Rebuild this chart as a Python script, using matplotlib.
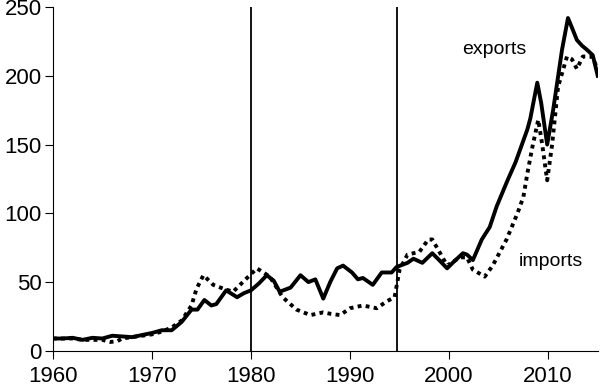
import matplotlib
matplotlib.use("Agg")
import matplotlib.pyplot as plt

plt.rcParams['font.family'] = ['Liberation Sans', 'DejaVu Sans']

# Exports (solid line)
exp_years = [1960, 1961, 1962, 1963, 1964, 1965, 1966, 1967, 1968, 1969,
             1970, 1971, 1972, 1973, 1974, 1974.6, 1975.3, 1976, 1976.5, 1977.5,
             1978.6, 1979.3, 1980, 1980.8, 1981.6, 1982.3, 1982.9, 1984, 1985, 1985.8,
             1986.5, 1987.3, 1988, 1988.7, 1989.3, 1990.2, 1990.8, 1991.3, 1992.3, 1993.2,
             1994.2, 1994.7, 1995.8, 1996.4, 1997.3, 1998.3, 1999, 1999.8, 2000.5, 2001.4,
             2001.8, 2002.4, 2003.3, 2004.1, 2004.8, 2005.9, 2006.7, 2007.4, 2007.9, 2008.2,
             2008.9, 2009.3, 2009.9, 2010.5, 2011.4, 2012.0, 2012.4, 2012.9, 2013.4, 2013.9,
             2014.5, 2015.0]
exp_vals = [9, 9, 9.5, 8, 9.5, 9, 11, 10.5, 10, 11.5,
            13, 15, 15, 21, 30, 30, 37, 33, 34, 44,
            39, 42, 44, 49, 55, 51, 43, 46, 55, 50,
            52, 38, 50, 60, 62, 57, 52, 53, 48, 57,
            57, 61, 64, 67, 64, 71, 66, 60, 65, 71,
            70, 66, 81, 90, 105, 124, 137, 151, 161, 169,
            195, 180, 150, 175, 219, 242, 235, 226, 222, 219,
            215, 200]

# Imports (dotted line)
imp_years = [1960, 1961, 1962, 1963, 1964, 1965, 1965.8, 1966.5, 1967, 1968,
             1969, 1970, 1971, 1972, 1973, 1974, 1974.5, 1975.2, 1976.2, 1977.3,
             1978.2, 1979.6, 1980.6, 1981.9, 1983.2, 1984.6, 1986, 1987.3, 1988, 1989,
             1990, 1991.3, 1992.7, 1993.7, 1994.5, 1995, 1995.8, 1997, 1997.9, 1998.3,
             1999.1, 1999.8, 2001.1, 2001.8, 2002.4, 2003.6, 2004.4, 2005.8, 2006.9, 2007.5,
             2007.9, 2008.4, 2009.0, 2009.4, 2009.9, 2010.4, 2011.0, 2011.9, 2012.4, 2012.9,
             2013.5, 2014.4, 2015.0]
imp_vals = [9, 9, 9, 8, 8, 8, 6.5, 7, 9, 10,
            11, 12, 14, 17, 22, 33, 45, 55, 48, 45,
            43, 53, 60, 54, 39, 30, 26, 28, 27, 26,
            31, 33, 31, 36, 39, 59, 70, 72, 81, 81,
            71, 62, 68, 68, 59, 54, 62, 81, 100, 112,
            129, 148, 168, 150, 124, 150, 192, 214, 212, 205,
            214, 214, 205]

breaks = [1980, 1994.7]

fig = plt.figure(figsize=(6, 3.89), dpi=100)
ax = fig.add_axes([0.088, 0.098, 0.909, 0.884])

ax.plot(exp_years, exp_vals, color='black', lw=2.8, solid_joinstyle='round')
ax.plot(imp_years, imp_vals, color='black', lw=2.8, linestyle=(0, (1, 1.1)))
for b in breaks:
    ax.axvline(b, color='black', lw=1.3)

ax.text(2004.6, 219, 'exports', fontsize=14, ha='center', va='center')
ax.text(2010.3, 65, 'imports', fontsize=14, ha='center', va='center')

ax.set_xlim(1960, 2015.05)
ax.set_ylim(0, 250)
ax.set_xticks([1960, 1970, 1980, 1990, 2000, 2010])
ax.set_yticks([0, 50, 100, 150, 200, 250])
ax.spines['top'].set_visible(False)
ax.spines['right'].set_visible(False)
ax.tick_params(labelsize=16, length=6, width=0.8)
ax.tick_params(axis='x', pad=5)
ax.tick_params(axis='y', pad=2)

fig.savefig('out.png', dpi=100)
